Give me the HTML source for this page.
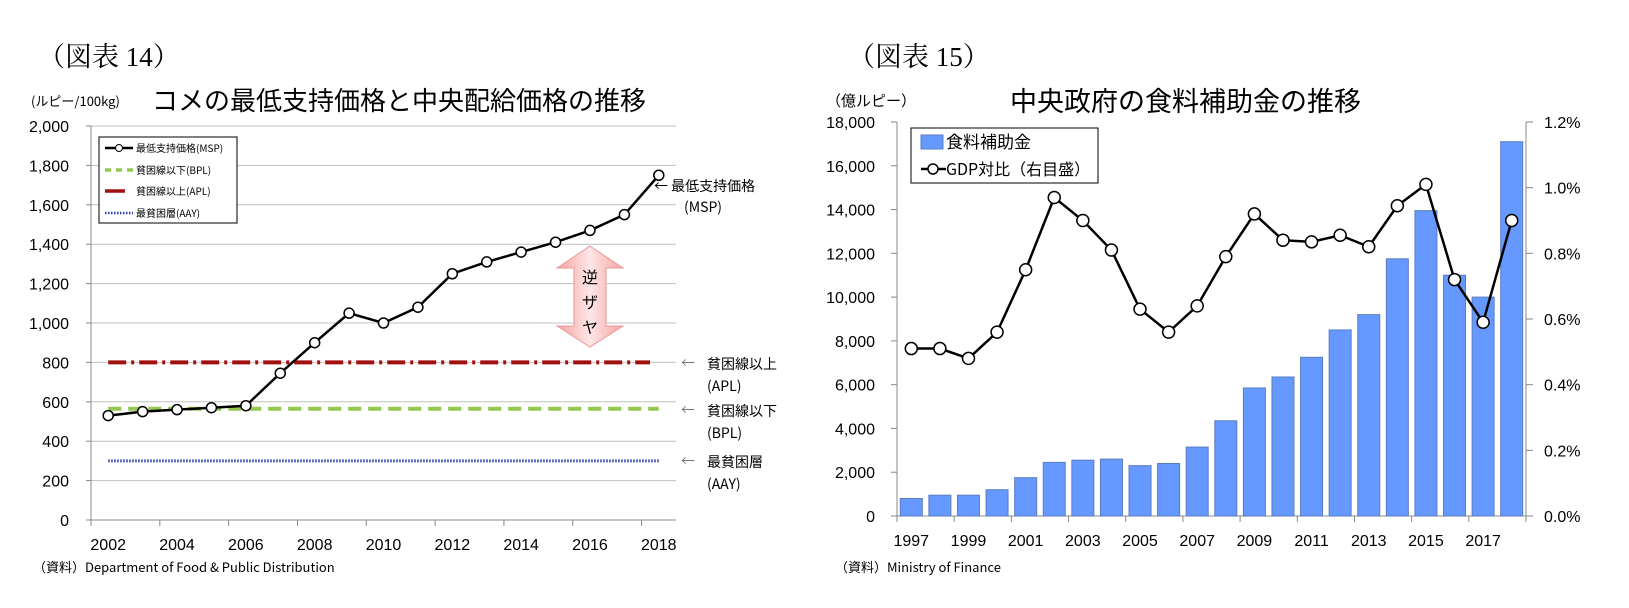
<!DOCTYPE html>
<html><head><meta charset="utf-8"><style>
body{margin:0;background:#fff;}
svg{display:block;font-family:"Liberation Sans","Noto Sans CJK JP",sans-serif;}
.jp{font-family:"Noto Sans CJK JP","Liberation Sans",sans-serif;}
</style></head><body>
<svg id="s" width="1629" height="608" viewBox="0 0 1629 608" xmlns="http://www.w3.org/2000/svg">
<text x="38" y="66" font-size="27" font-family="Liberation Serif,'Noto Serif CJK SC',serif">（図表 14）</text>
<text x="848" y="66" font-size="27" font-family="Liberation Serif,'Noto Serif CJK SC',serif">（図表 15）</text>
<text x="31" y="106" font-size="13" class="jp">(ルピー/100kg)</text>
<text x="152" y="110" font-size="26" class="jp">コメの最低支持価格と中央配給価格の推移</text>
<text x="826" y="106" font-size="15" class="jp">（億ルピー）</text>
<text x="1010" y="111" font-size="27" class="jp">中央政府の食料補助金の推移</text>
<text x="33" y="572" font-size="13" class="jp">（資料）Department of Food &amp; Public Distribution</text>
<text x="835" y="572" font-size="13" class="jp">（資料）Ministry of Finance</text>
<g id="L"></g><g id="R"></g>
</svg>
<script>
// Left chart data
const lYears=[2002,2003,2004,2005,2006,2007,2008,2009,2010,2011,2012,2013,2014,2015,2016,2017,2018];
const mspValues=[530,550,560,570,580,745,900,1050,1000,1080,1250,1310,1360,1410,1470,1550,1750];
const aplValue=[800];
const bplValue=[565];
const aayValue=[300];
const lTicks=[0,200,400,600,800,1000,1200,1400,1600,1800,2000];
// Right chart data
const rYears=[1997,1998,1999,2000,2001,2002,2003,2004,2005,2006,2007,2008,2009,2010,2011,2012,2013,2014,2015,2016,2017,2018];
const subsidyValues=[800,950,950,1200,1750,2450,2550,2600,2300,2400,3150,4350,5850,6350,7250,8500,9200,11750,13950,11000,10000,17100];
const gdpShare=[0.51,0.51,0.48,0.56,0.75,0.97,0.90,0.81,0.63,0.56,0.64,0.79,0.92,0.84,0.835,0.855,0.82,0.945,1.01,0.72,0.59,0.90];
const rTicks=[0,2000,4000,6000,8000,10000,12000,14000,16000,18000];
const pTicks=[0,0.2,0.4,0.6,0.8,1.0,1.2];

const NS='http://www.w3.org/2000/svg';
function mk(p,t,a,txt){const e=document.createElementNS(NS,t);for(const k in a)e.setAttribute(k,a[k]);if(txt!==undefined)e.textContent=txt;p.appendChild(e);return e;}

// LEFT
const L=document.getElementById('L');
const lx0=91,lx1=676,ly0=520,ly1=126;
const lcw=(lx1-lx0)/lYears.length;
const lx=i=>lx0+lcw*(i+0.5);
const ly=v=>ly0-(v/2000)*(ly0-ly1);
lTicks.forEach(t=>{
  if(t>0){const g=mk(L,'line',{x1:lx0,x2:lx1,y1:ly(t),y2:ly(t),stroke:'#c0c0c0','stroke-width':1});
  
  }
  const tk=mk(L,'line',{x1:lx0-5,x2:lx0,y1:ly(t),y2:ly(t),stroke:'#888'});
  
  
  const lb=mk(L,'text',{x:69,y:ly(t)+6,'font-size':16,'text-anchor':'end'},t.toLocaleString('en-US'));
  
  
});
let a=mk(L,'line',{x1:lx0,x2:lx0,y1:ly1,y2:ly0,stroke:'#888'});
a=mk(L,'line',{x1:lx0,x2:lx1,y1:ly0,y2:ly0,stroke:'#888'});
for(let i=0;i<=lYears.length;i+=2){const t=mk(L,'line',{x1:lx0+lcw*i,x2:lx0+lcw*i,y1:ly0,y2:ly0+6,stroke:'#888'});

}
lYears.forEach((y,i)=>{if(i%2==0){const t=mk(L,'text',{x:lx(i),y:550,'font-size':16,'text-anchor':'middle'},y);

}});
// reference lines
let e=mk(L,'line',{x1:lx(0),x2:650,y1:ly(aplValue[0]),y2:ly(aplValue[0]),stroke:'#a01010','stroke-width':4,'stroke-dasharray':'18 5 3 5'});

e=mk(L,'line',{x1:lx(0),x2:lx(16),y1:ly(bplValue[0]),y2:ly(bplValue[0]),stroke:'#92c850','stroke-width':4,'stroke-dasharray':'13 7'});

e=mk(L,'line',{x1:lx(0),x2:lx(16),y1:ly(aayValue[0]),y2:ly(aayValue[0]),stroke:'#3040b0','stroke-width':3,'stroke-dasharray':'1.5 1.5'});

e=mk(L,'polyline',{points:mspValues.map((v,i)=>lx(i)+','+ly(v)).join(' '),fill:'none',stroke:'#000','stroke-width':2.5});

mspValues.forEach((v,i)=>{const c=mk(L,'circle',{cx:lx(i),cy:ly(v),r:5,fill:'#fff',stroke:'#000','stroke-width':1.5});

});
// legend
const lg=mk(L,'g',{});
mk(lg,'rect',{x:99,y:137,width:138,height:86,fill:'#fff',stroke:'#000','stroke-width':1});
const ents=[['最低支持価格(MSP)',148],['貧困線以上(BPL)',170],['貧困線以上(APL)',191],['最貧困層(AAY)',213]];
ents[1][0]='貧困線以下(BPL)';
mk(lg,'line',{x1:105,x2:133,y1:148,y2:148,stroke:'#000','stroke-width':2.5});
mk(lg,'circle',{cx:119,cy:148,r:3.5,fill:'#fff',stroke:'#000'});
mk(lg,'line',{x1:105,x2:133,y1:170,y2:170,stroke:'#92c850','stroke-width':3.5,'stroke-dasharray':'6 5'});
mk(lg,'line',{x1:105,x2:125,y1:191,y2:191,stroke:'#a01010','stroke-width':3.5});
mk(lg,'line',{x1:105,x2:133,y1:213,y2:213,stroke:'#3040b0','stroke-width':2.5,'stroke-dasharray':'1.5 1.5'});
ents.forEach(([t,y])=>mk(lg,'text',{x:136,y:y+4,'font-size':10,class:'jp'},t));
// arrow
const ar=mk(L,'g',{});
mk(ar,'defs',{}).innerHTML='<linearGradient id="pg" x1="0" x2="1"><stop offset="0" stop-color="#f6a3a3"/><stop offset="0.5" stop-color="#fde6e6"/><stop offset="1" stop-color="#f6a3a3"/></linearGradient>';
mk(ar,'polygon',{points:'590,246 623,268 606,268 606,326 623,326 590,347 557,326 574,326 574,268 557,268',fill:'url(#pg)',stroke:'#e89a9a'});
['逆','ザ','ヤ'].forEach((c,i)=>mk(ar,'text',{x:590,y:283+i*25,'font-size':16,'text-anchor':'middle',class:'jp'},c));
// annotations
[['← 最低支持価格',654,191],['(MSP)',684,212],['←',681,368],['貧困線以上',707,369],['(APL)',707,391],['←',681,415],['貧困線以下',707,416],['(BPL)',707,438],['←',681,466],['最貧困層',707,467],['(AAY)',707,489]].forEach(([t,x,y])=>{
 const n=mk(L,'text',{x:x,y:y,'font-size':14,class:'jp',fill:t==='←'?'#777':'#000'},t);
 
 });

// RIGHT
const R=document.getElementById('R');
const rx0=897,rx1=1526,ry0=516,ry1=122;
const rcw=(rx1-rx0)/rYears.length;
const rx=i=>rx0+rcw*(i+0.5);
const ry=v=>ry0-(v/18000)*(ry0-ry1);
const rp=v=>ry0-(v/1.2)*(ry0-ry1);
rTicks.forEach(t=>{const tk=mk(R,'line',{x1:rx0-6,x2:rx0,y1:ry(t),y2:ry(t),stroke:'#888'});
 
 const lb=mk(R,'text',{x:875,y:ry(t)+6,'font-size':16,'text-anchor':'end'},t.toLocaleString('en-US'));
 
 });
pTicks.forEach(t=>{const tk=mk(R,'line',{x1:rx1,x2:rx1+7,y1:rp(t),y2:rp(t),stroke:'#888'});
 
 const lb=mk(R,'text',{x:1544,y:rp(t)+6,'font-size':16},t.toFixed(1)+'%');
 
 });
a=mk(R,'line',{x1:rx0,x2:rx0,y1:ry1,y2:ry0,stroke:'#888'});
a=mk(R,'line',{x1:rx1,x2:rx1,y1:ry1,y2:ry0,stroke:'#888'});
a=mk(R,'line',{x1:rx0,x2:rx1,y1:ry0,y2:ry0,stroke:'#888'});
for(let i=0;i<=rYears.length;i+=2){const t=mk(R,'line',{x1:rx0+rcw*i,x2:rx0+rcw*i,y1:ry0,y2:ry0+6,stroke:'#888'});

}
rYears.forEach((y,i)=>{if(i%2==0){const t=mk(R,'text',{x:rx(i),y:546,'font-size':16,'text-anchor':'middle'},y);

}});
subsidyValues.forEach((v,i)=>{const b=mk(R,'rect',{x:rx(i)-11,y:ry(v),width:22,height:ry0-ry(v),fill:'#6699ff',stroke:'#5a7cc0','stroke-width':1});

});
e=mk(R,'polyline',{points:gdpShare.map((v,i)=>rx(i)+','+rp(v)).join(' '),fill:'none',stroke:'#000','stroke-width':2.5});

gdpShare.forEach((v,i)=>{const c=mk(R,'circle',{cx:rx(i),cy:rp(v),r:6,fill:'#fff',stroke:'#000','stroke-width':1.5});

});
const rg=mk(R,'g',{});
mk(rg,'rect',{x:911,y:128,width:187,height:55,fill:'#fff',stroke:'#000','stroke-width':1});
mk(rg,'rect',{x:921,y:135,width:22,height:14,fill:'#6699ff',stroke:'#5a7cc0'});
mk(rg,'text',{x:946,y:148,'font-size':17,class:'jp'},'食料補助金');
mk(rg,'line',{x1:921,x2:946,y1:169,y2:169,stroke:'#000','stroke-width':2.5});
mk(rg,'circle',{cx:933,cy:169,r:5,fill:'#fff',stroke:'#000','stroke-width':1.5});
mk(rg,'text',{x:946,y:175,'font-size':16,class:'jp'},'GDP対比（右目盛）');
</script>
</body></html>
